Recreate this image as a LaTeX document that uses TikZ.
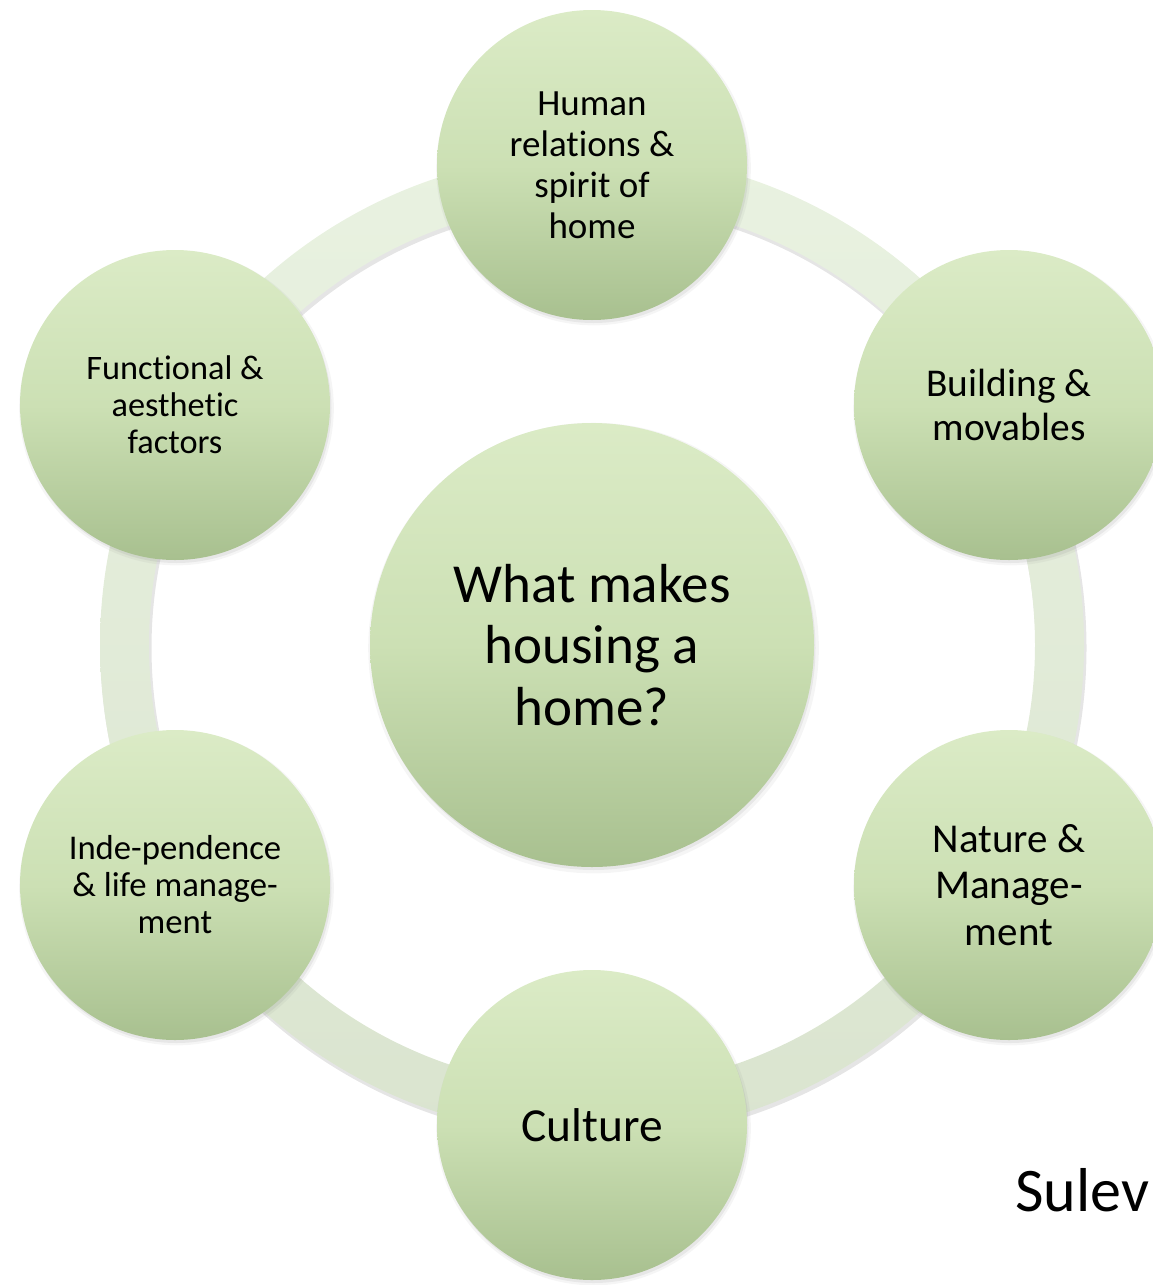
\documentclass[tikz,border=0pt]{standalone}
\usepackage{fontspec}
\setmainfont{Carlito}[Ligatures={NoCommon}, RawFeature={-calt;-dlig;-liga}]
\usetikzlibrary{shadows}
\definecolor{ctop}{RGB}{219,235,198}
\definecolor{cmid}{RGB}{204,224,180}
\definecolor{cbot}{RGB}{168,192,143}
\definecolor{rtop}{RGB}{233,242,225}
\definecolor{rbot}{RGB}{218,228,207}
\begin{document}
\begin{tikzpicture}[x=1pt,y=-1pt,
  softshadow/.style={
    drop shadow={shadow xshift=1.5pt, shadow yshift=-3pt, opacity=0.08, shadow scale=1.015},
    drop shadow={shadow xshift=1.5pt, shadow yshift=-3pt, opacity=0.12}},
  bubble/.style={circle, inner sep=0pt, minimum size=#1, top color=ctop, bottom color=cbot,
    middle color=cmid, align=center, text=black, softshadow},
  bubble/.default=310pt,
  fs/.style n args={2}{font=\fontsize{#1}{#2}\selectfont}
]
\useasboundingbox (0,0) rectangle (1153,1285);
\coordinate (c) at (592,645);
\coordinate (cs) at (593.5,648);
% ring shadow and ring
\fill[black, opacity=0.10, even odd rule] (cs) circle[radius=493] (cs) circle[radius=442];
\path[top color=rtop, bottom color=rbot, even odd rule]
  (c) circle[radius=492] (c) circle[radius=443];
% outer nodes
\node[bubble, fs={37}{41}] (hum) at (592,165) {Human\\relations \&\\spirit of\\home};
\node[bubble, fs={39.4}{44}] (bld) at (1009,405) {Building \&\\movables};
\node[bubble, fs={41}{46.5}] (nat) at (1009,885) {Nature \&\\Manage-\\ment};
\node[bubble, fs={47.4}{52}] (cul) at (592,1125) {Culture};
\node[bubble, fs={34.7}{37}] (ind) at (175,885) {Inde-pendence\\\& life manage-\\ment};
\node[bubble, fs={34.3}{37}] (fun) at (175,405) {Funct\kern0pt ional \&\\aesthet\kern0pt ic\\factors};
% centre
\node[bubble=444pt, fs={55}{61.5}] (ctr) at (c) {What makes\\housing a\\home?};
% author
\node[anchor=base west, inner sep=0pt, fs={62}{70}] (auth) at (1015,1211) {Sulev};
\end{tikzpicture}
\end{document}
